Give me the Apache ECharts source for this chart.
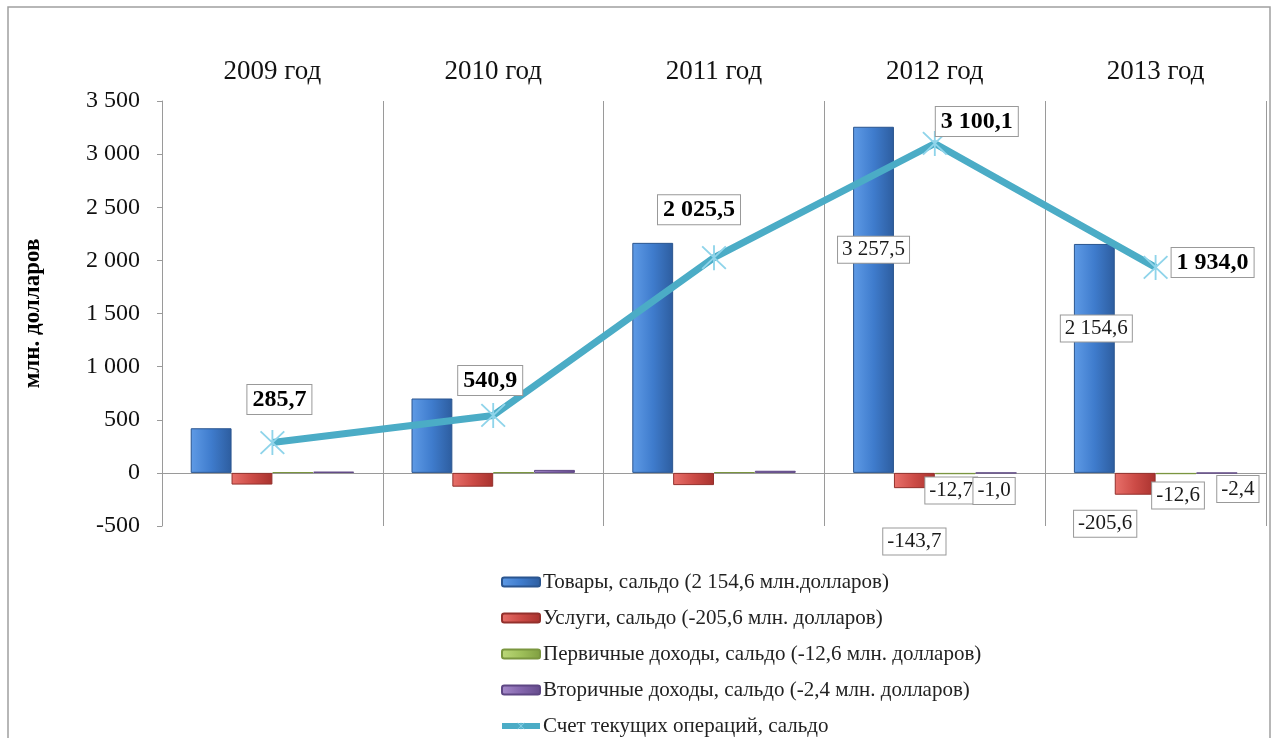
<!DOCTYPE html>
<html>
<head>
<meta charset="utf-8">
<script src="https://cdn.jsdelivr.net/npm/echarts@6/dist/echarts.min.js"></script>
<style>
html,body{margin:0;padding:0;background:#fff;}
#chart{width:1276px;height:738px;}
</style>
</head>
<body>
<div id="chart"></div>
<script>
// ---- data ----
const categories = ['2009 год', '2010 год', '2011 год', '2012 год', '2013 год'];
const goods     = [420, 700, 2165, 3257.5, 2154.6];
const services  = [-110, -130, -115, -143.7, -205.6];
const primary   = [6, 5, 6, -12.7, -12.6];
const secondary = [12, 28, 20, -1.0, -2.4];
const current   = [285.7, 540.9, 2025.5, 3100.1, 1934.0];
const seriesNames = [
  'Товары, сальдо (2 154,6 млн.долларов)',
  'Услуги, сальдо (-205,6 млн. долларов)',
  'Первичные доходы, сальдо (-12,6 млн. долларов)',
  'Вторичные доходы, сальдо (-2,4 млн. долларов)',
  'Счет текущих операций, сальдо'
];
const yTicks = { min: -500, max: 3500, interval: 500 };

// ---- label placement (style only) ----
const goodsLabelOffsets     = [null, null, null, [0, -50], [2, -30]];
const servicesLabelOffsets  = [null, null, null, [0, 61], [-30, 40]];
const primaryLabelOffsets   = [null, null, null, [-4, 17], [2, 22]];
const secondaryLabelOffsets = [null, null, null, [-2, 18], [21, 16]];
const currentLabelOffsets   = [[7, -43], [-3, -35], [-15, -48], [42, -22], [57, -5]];

const SERIF = '"Liberation Serif", "Times New Roman", serif';

function fmt(v) {
  const neg = v < 0;
  const a = Math.abs(v).toFixed(1).split('.');
  const intPart = a[0].replace(/\B(?=(\d{3})+(?!\d))/g, ' ');
  return (neg ? '-' : '') + intPart + ',' + a[1];
}
function fmtTick(v) {
  const neg = v < 0;
  const s = String(Math.abs(v)).replace(/\B(?=(\d{3})+(?!\d))/g, ' ');
  return (neg ? '-' : '') + s;
}

const boxLabel = {
  show: true,
  position: 'inside',
  formatter: p => fmt(p.value),
  fontFamily: SERIF,
  fontSize: 21,
  color: '#1a1a1a',
  backgroundColor: '#fff',
  borderColor: '#999',
  borderWidth: 1,
  padding: [3, 4, 2, 4]
};

function withLabels(values, offsets, extra) {
  return values.map((v, i) => offsets[i]
    ? { value: v, label: Object.assign({}, boxLabel, extra || {}, { offset: offsets[i] }) }
    : v);
}

function grad(c1, c2, c3) {
  return new echarts.graphic.LinearGradient(0, 0, 1, 0, [
    { offset: 0, color: c1 }, { offset: 0.5, color: c2 }, { offset: 1, color: c3 }
  ]);
}

const barColors = [
  [grad('#5f9be6', '#3f7ccd', '#2d5d9f'), '#2a558f'],
  [grad('#e8706a', '#cc4b46', '#a8322e'), '#93302c'],
  [grad('#bdd97a', '#9fc05a', '#7f9e40'), '#7a963f'],
  [grad('#a78ccb', '#8466ad', '#654c8c'), '#5e4784']
];
const barData = [goods, services, primary, secondary];
const barOffsets = [goodsLabelOffsets, servicesLabelOffsets, primaryLabelOffsets, secondaryLabelOffsets];

const series = barData.map((vals, k) => ({
  name: seriesNames[k],
  type: 'bar',
  barGap: '0%',
  barCategoryGap: '26%',
  data: withLabels(vals, barOffsets[k]),
  itemStyle: { color: barColors[k][0], borderColor: barColors[k][1], borderWidth: 1 },
  z: 2
}));

series[0].markLine = {
  silent: true,
  symbol: 'none',
  label: { show: false },
  lineStyle: { color: '#9a9a9a', width: 1, type: 'solid' },
  data: [{ yAxis: 0 }],
  z: 1
};

const asterisk = 'path://M9.3,0 L10.7,0 L10.7,20 L9.3,20 Z M1.5,0.5 L19.5,18.5 L18.5,19.5 L0.5,1.5 Z M18.5,0.5 L19.5,1.5 L1.5,19.5 L0.5,18.5 Z';

series.push({
  name: seriesNames[4],
  type: 'line',
  data: withLabels(current, currentLabelOffsets, { fontWeight: 'bold', fontSize: 24, color: '#000', padding: [3, 5, 2, 5] }),
  symbol: asterisk,
  symbolSize: 25,
  itemStyle: { color: '#8fd4ea' },
  lineStyle: { color: '#4bacc6', width: 7 },
  z: 5
});

const option = {
  animation: false,
  backgroundColor: '#fff',
  grid: { left: 162, right: 10, top: 101, bottom: 212, containLabel: false },
  graphic: [{
    type: 'rect',
    shape: { x: 8, y: 7, width: 1262, height: 745 },
    style: { fill: 'none', stroke: '#a0a0a0', lineWidth: 1.5 },
    silent: true, z: -1
  }],
  legend: {
    orient: 'vertical',
    left: 499,
    top: 571,
    padding: 0,
    itemWidth: 38,
    itemHeight: 9,
    itemGap: 14,
    data: seriesNames.slice(0, 4).concat([{ name: seriesNames[4], lineStyle: { width: 6, color: '#4bacc6' } }]),
    textStyle: { fontFamily: SERIF, fontSize: 21, color: '#222', lineHeight: 22, padding: [0, 0, 0, -2] }
  },
  xAxis: {
    type: 'category',
    position: 'top',
    data: categories,
    axisLine: { show: false },
    axisTick: { show: false },
    axisLabel: { fontFamily: SERIF, fontSize: 27, color: '#111', margin: 16 },
    splitLine: { show: true, lineStyle: { color: '#9a9a9a', width: 1 } }
  },
  yAxis: {
    type: 'value',
    min: yTicks.min,
    max: yTicks.max,
    interval: yTicks.interval,
    name: 'млн. долларов',
    nameLocation: 'middle',
    nameRotate: 90,
    nameGap: 117,
    nameTextStyle: { fontFamily: SERIF, fontSize: 23, fontWeight: 'bold', color: '#000' },
    axisLine: { show: true, lineStyle: { color: '#9a9a9a' } },
    axisTick: { show: true, length: 5, lineStyle: { color: '#9a9a9a' } },
    axisLabel: { fontFamily: SERIF, fontSize: 24, color: '#111', margin: 22, formatter: fmtTick },
    splitLine: { show: false }
  },
  series: series
};

const chart = echarts.init(document.getElementById('chart'), null, { renderer: 'canvas' });
chart.setOption(option);
</script>
</body>
</html>
